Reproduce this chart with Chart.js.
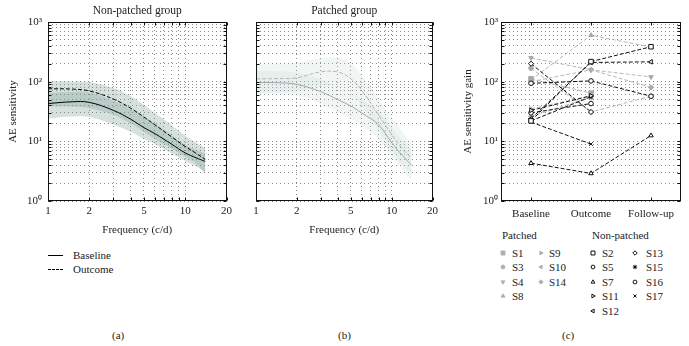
<!DOCTYPE html>
<html>
<head>
<meta charset="utf-8">
<script src="https://cdn.jsdelivr.net/npm/chart.js@4.4.1/dist/chart.umd.min.js"></script>
<style>
  body { margin: 0; background: #fff; }
  #wrap { position: relative; width: 689px; height: 346px; font-family: "Liberation Serif", "Times New Roman", serif; color: #222; overflow: hidden; }
  #wrap canvas { position: absolute; }
  .lbl { position: absolute; font-size: 11px; line-height: 14px; white-space: nowrap; }
  .ln { position: absolute; width: 15px; height: 0; }
</style>
</head>
<body>
<div id="wrap">
  <canvas id="chartA" width="236" height="240" style="left:0;top:0"></canvas>
  <canvas id="chartB" width="206" height="240" style="left:236px;top:0"></canvas>
  <canvas id="chartC" width="234" height="224" style="left:455px;top:0"></canvas>

  <div class="ln" style="left:48px;top:255px;border-top:1px solid #000"></div>
  <div class="lbl" style="left:73px;top:248px">Baseline</div>
  <div class="ln" style="left:48px;top:269px;border-top:1px dashed #000"></div>
  <div class="lbl" style="left:73px;top:262px">Outcome</div>

  <div class="lbl" style="left:112px;top:328px">(a)</div>
  <div class="lbl" style="left:338px;top:328px">(b)</div>
  <div class="lbl" style="left:562px;top:328px">(c)</div>

  <div class="lbl" style="left:502px;top:228px">Patched</div>
  <div class="lbl" style="left:592px;top:228px">Non-patched</div>
  <div id="legendC"></div>
</div>

<script>
Chart.defaults.font.family = '"Liberation Serif", "Times New Roman", serif';
Chart.defaults.font.size = 11;
Chart.defaults.color = '#222';

// ------------------ panel (a)/(b): sensitivity vs frequency ------------------
const freqs = [1, 1.5, 2, 3, 4, 5, 6, 8, 10, 12, 14];

// non-patched group
const npBaseline = [43, 46, 45, 33, 23.5, 17, 13.5, 8.9, 6.4, 5.3, 4.6];
const npOutcome  = [76, 75, 70, 51, 36, 25.5, 19, 11.8, 8.2, 6.3, 5.0];
const npBaseLo   = [24, 26, 25.5, 19, 14.5, 11, 9, 6.2, 4.7, 3.8, 3.1];
const npBaseHi   = [65, 68, 66, 48, 35, 26, 20, 12.5, 8.8, 7.2, 6.2];
const npOutLo    = [38, 38, 36, 28, 20, 14.5, 11, 7.5, 5.5, 4.2, 2.8];
const npOutHi    = [101, 101, 98, 78, 57, 41, 30, 18.5, 12.5, 9.5, 7.8];

// patched group
const pBaseline = [97, 96, 90, 68, 50, 39, 30, 19, 9.5, 5.8, 4.0];
const pOutcome  = [111, 113, 116, 146, 145, 112, 72, 28, 13, 7.5, 5.2];
const pBaseLo   = [62, 62, 58, 43, 31, 24, 18, 11, 5.5, 3.3, 2.2];
const pBaseHi   = [150, 150, 142, 110, 82, 64, 50, 32, 17, 10.5, 7.2];
const pOutLo    = [64, 66, 68, 84, 82, 64, 40, 15, 7, 4, 2.8];
const pOutHi    = [195, 200, 205, 250, 250, 205, 130, 52, 25, 14.5, 9.5];

// tick positions and labels
const freqTicks   = [1, 2, 3, 4, 5, 6, 7, 8, 9, 10, 20];
const freqLabeled = [1, 2, 5, 10, 20];
const sensTicks   = [1, 2, 3, 4, 5, 6, 7, 8, 9, 10, 20, 30, 40, 50, 60, 70, 80, 90,
                     100, 200, 300, 400, 500, 600, 700, 800, 900, 1000];
const decadeValues = [1, 10, 100, 1000];
const decadeLabels = ['10\u2070', '10\u00B9', '10\u00B2', '10\u00B3'];

// ------------------ panel (c): gain per visit ------------------
const visits = ['Baseline', 'Outcome', 'Follow-up'];
// patched
const gainS1  = [112, 64, null];
const gainS3  = [168, 31, 57];
const gainS4  = [250, 158, 120];
const gainS8  = [107, 600, 380];
const gainS9  = [35, 58, null];
const gainS10 = [26, 55, null];
const gainS14 = [100, 158, 80];
// non-patched
const gainS2  = [22, 217, 385];
const gainS5  = [94, 103, 57];
const gainS7  = [4.3, 2.9, 12.5];
const gainS11 = [33, 58, null];
const gainS12 = [24, 210, 215];
const gainS13 = [200, 31, null];
const gainS15 = [22, 56, null];
const gainS16 = [30, 43, null];
const gainS17 = [21, 9, null];

// ------------------ helpers ------------------
function setTicks(values) {
  return function(scale) { scale.ticks = values.map(v => ({ value: v })); };
}
function fixWidth(w) { return function(scale) { scale.width = w; }; }
function fixHeight(h) { return function(scale) { scale.height = h; }; }
function pts(ys) { return freqs.map((f, i) => ({ x: f, y: ys[i] })); }

// box around the plot with short inward tick marks on all four sides
const frameTicks = {
  id: 'frameTicks',
  afterDraw(chart) {
    const ctx = chart.ctx;
    const a = chart.chartArea;
    const L = Math.round(a.left) + 0.5, R = Math.round(a.right) - 0.5;
    const T = Math.round(a.top) + 0.5, B = Math.round(a.bottom) - 0.5;
    ctx.save();
    ctx.strokeStyle = '#111';
    ctx.lineWidth = 1;
    ctx.strokeRect(L, T, R - L, B - T);
    ctx.beginPath();
    const xs = chart.scales.x, ys = chart.scales.y;
    xs.ticks.forEach((t, i) => {
      const px = Math.round(xs.getPixelForTick(i)) + 0.5;
      ctx.moveTo(px, B); ctx.lineTo(px, B - 3);
      ctx.moveTo(px, T); ctx.lineTo(px, T + 3);
    });
    ys.ticks.forEach((t, i) => {
      const py = Math.round(ys.getPixelForTick(i)) + 0.5;
      ctx.moveTo(L, py); ctx.lineTo(L + 3, py);
      ctx.moveTo(R, py); ctx.lineTo(R - 3, py);
    });
    ctx.stroke();
    ctx.restore();
  }
};

const dotted = { color: '#8a8a8a', lineWidth: 1, drawTicks: false };

function sensAxis(showLabels, width, title, pad) {
  return {
    type: 'logarithmic', min: 1, max: 1000,
    afterBuildTicks: setTicks(sensTicks),
    afterFit: fixWidth(width),
    grid: dotted,
    border: { display: false, dash: [1, 3] },
    ticks: {
      display: showLabels, autoSkip: false, padding: pad,
      callback: v => { const k = decadeValues.indexOf(v); return k >= 0 ? decadeLabels[k] : ''; }
    },
    title: { display: !!title, text: title || '', padding: { top: 7, bottom: 0 } }
  };
}

function freqAxis() {
  return {
    type: 'logarithmic', min: 1, max: 20,
    afterBuildTicks: setTicks(freqTicks),
    afterFit: fixHeight(39),
    grid: dotted,
    border: { display: false, dash: [1, 3] },
    ticks: {
      autoSkip: false, maxRotation: 0, padding: 4,
      callback: v => freqLabeled.includes(v) ? String(v) : ''
    },
    title: { display: true, text: 'Frequency (c/d)', padding: { top: 0, bottom: 3 } }
  };
}

function curveChart(id, title, base, out, bLo, bHi, oLo, oHi, look) {
  const line = (ys, dash, color) => ({
    data: pts(ys), borderColor: color, borderWidth: 1, borderDash: dash,
    pointRadius: 0, fill: false, tension: 0.4
  });
  const band = (ys, fill) => ({
    data: pts(ys), borderWidth: 0, borderColor: 'rgba(0,0,0,0)', pointRadius: 0,
    fill: fill, backgroundColor: look.band, tension: 0.4
  });
  return new Chart(document.getElementById(id), {
    type: 'line',
    data: {
      datasets: [
        line(base, [], look.base),
        line(out, [4, 2], look.out),
        band(bHi, '+1'), band(bLo, false),
        band(oHi, '+1'), band(oLo, false)
      ]
    },
    options: {
      responsive: false, animation: false, events: [],
      layout: { padding: { left: 0, right: 8, top: 0, bottom: 0 } },
      plugins: {
        legend: { display: false }, tooltip: { enabled: false },
        title: { display: true, text: title, fullSize: false, color: '#222',
                 font: { size: 11.5, weight: 'normal' }, padding: { top: 4, bottom: 4.2 } }
      },
      scales: {
        x: freqAxis(),
        y: look.yTitle ? sensAxis(true, 48, look.yTitle, 6) : sensAxis(false, 20, '', 0)
      }
    },
    plugins: [frameTicks]
  });
}

curveChart('chartA', 'Non-patched group', npBaseline, npOutcome, npBaseLo, npBaseHi, npOutLo, npOutHi,
  { base: '#000', out: '#000', band: 'rgba(120,155,145,0.30)', yTitle: 'AE sensitivity' });
curveChart('chartB', 'Patched group', pBaseline, pOutcome, pBaseLo, pBaseHi, pOutLo, pOutHi,
  { base: '#a5a5a5', out: '#b5b5b5', band: 'rgba(180,205,200,0.18)', yTitle: '' });

// ------------------ panel (c) ------------------
const grey = '#b8b8b8';
const subjects = [
  // non-patched first so they sit on top
  { name: 'S2',  data: gainS2,  style: 'rect',     rot: 0,   patched: false, col: 2, row: 0 },
  { name: 'S5',  data: gainS5,  style: 'circle',   rot: 0,   patched: false, col: 2, row: 1 },
  { name: 'S7',  data: gainS7,  style: 'triangle', rot: 0,   patched: false, col: 2, row: 2 },
  { name: 'S11', data: gainS11, style: 'triangle', rot: 90,  patched: false, col: 2, row: 3 },
  { name: 'S12', data: gainS12, style: 'triangle', rot: -90, patched: false, col: 2, row: 4 },
  { name: 'S13', data: gainS13, style: 'rectRot',  rot: 0,   patched: false, col: 3, row: 0 },
  { name: 'S15', data: gainS15, style: 'star',     rot: 0,   patched: false, col: 3, row: 1 },
  { name: 'S16', data: gainS16, style: 'circle',   rot: 0,   patched: false, col: 3, row: 2 },
  { name: 'S17', data: gainS17, style: 'crossRot', rot: 0,   patched: false, col: 3, row: 3 },
  { name: 'S1',  data: gainS1,  style: 'rect',     rot: 0,   patched: true,  col: 0, row: 0 },
  { name: 'S3',  data: gainS3,  style: 'circle',   rot: 0,   patched: true,  col: 0, row: 1 },
  { name: 'S4',  data: gainS4,  style: 'triangle', rot: 180, patched: true,  col: 0, row: 2 },
  { name: 'S8',  data: gainS8,  style: 'triangle', rot: 0,   patched: true,  col: 0, row: 3 },
  { name: 'S9',  data: gainS9,  style: 'triangle', rot: 90,  patched: true,  col: 1, row: 0 },
  { name: 'S10', data: gainS10, style: 'triangle', rot: -90, patched: true,  col: 1, row: 1 },
  { name: 'S14', data: gainS14, style: 'rectRot',  rot: 0,   patched: true,  col: 1, row: 2 }
];

function markerRadius(s) { return s.style === 'rect' ? 3.2 : s.style === 'circle' ? 2.3 : 2.6; }

new Chart(document.getElementById('chartC'), {
  type: 'line',
  data: {
    labels: visits,
    datasets: subjects.map(s => ({
      label: s.name,
      data: s.data,
      borderColor: s.patched ? grey : '#111',
      borderWidth: 1,
      borderDash: [4, 2],
      pointStyle: s.style,
      rotation: s.rot,
      pointRadius: markerRadius(s),
      pointBorderWidth: 1,
      pointBorderColor: s.patched ? '#aaa' : '#111',
      pointBackgroundColor: s.patched ? '#aaa' : '#fff',
      fill: false
    }))
  },
  options: {
    responsive: false, animation: false, events: [],
    layout: { padding: { left: 0, right: 8, top: 22, bottom: 0 } },
    plugins: { legend: { display: false }, tooltip: { enabled: false } },
    scales: {
      x: {
        offset: true,
        afterFit: fixHeight(23),
        grid: { display: false, drawTicks: false },
        border: { display: false },
        ticks: { padding: 7, maxRotation: 0, autoSkip: false }
      },
      y: sensAxis(true, 46, 'AE sensitivity gain', 3)
    }
  },
  plugins: [frameTicks]
});

// ------------------ panel (c) legend ------------------
const legendCols = [
  { mark: 503, text: 512 },
  { mark: 541, text: 549 },
  { mark: 593, text: 602 },
  { mark: 635, text: 646 }
];
const legendTop = 252.5, legendStep = 14.6;
const legendBox = document.getElementById('legendC');
subjects.forEach(s => {
  const c = legendCols[s.col];
  const cy = legendTop + s.row * legendStep;
  const cv = document.createElement('canvas');
  cv.width = 10; cv.height = 10;
  cv.style.left = (c.mark - 5) + 'px';
  cv.style.top = (cy - 5) + 'px';
  legendBox.appendChild(cv);
  const ctx = cv.getContext('2d');
  ctx.fillStyle = s.patched ? '#b0b0b0' : '#fff';
  ctx.strokeStyle = s.patched ? '#b0b0b0' : '#111';
  ctx.lineWidth = 1;
  Chart.helpers.drawPoint(ctx, { pointStyle: s.style, rotation: s.rot, radius: markerRadius(s) - 0.4, borderWidth: 1 }, 5, 5);
  const t = document.createElement('div');
  t.className = 'lbl';
  t.style.left = c.text + 'px';
  t.style.top = (cy - 7) + 'px';
  t.textContent = s.name;
  legendBox.appendChild(t);
});
</script>
</body>
</html>
